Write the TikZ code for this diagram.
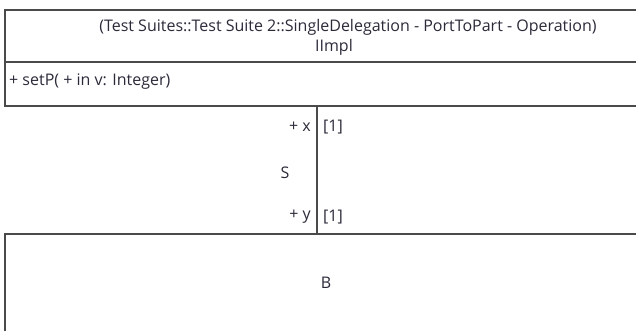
\documentclass[tikz,border=0pt]{standalone}
\usepackage{fontspec}
\setmainfont{Open Sans}
\definecolor{umlline}{HTML}{4A4A4A}
\definecolor{umltext}{HTML}{2A2A3A}
\begin{document}
\begin{tikzpicture}[x=1pt,y=-1pt,font=\fontsize{16}{19}\selectfont,
  umltxt/.style={text=umltext,inner sep=0pt}]
\useasboundingbox (0,0) rectangle (636,330);
\draw[umlline,line width=1.4pt] (5,10) rectangle (690,106);
\draw[umlline,line width=1.4pt] (5,62)--(690,62);
\draw[umlline,line width=1.4pt] (317,106)--(317,234);
\draw[umlline,line width=1.4pt] (5,340)--(5,234)--(690,234);
\node[umltxt] (title) at (348,27) {(Test Suites::Test Suite 2::SingleDelegation - PortToPart - Operation)};
\node[umltxt] (name) at (334,47) {IImpl};
\node[umltxt,anchor=west] (op) at (9,82) {+ setP( + in v: Integer)};
\node[umltxt,anchor=east] (px) at (311,127) {+ x};
\node[umltxt,anchor=west] (mx) at (323,127) {[1]};
\node[umltxt] (s) at (285,173) {S};
\node[umltxt,anchor=east] (py) at (311,217) {+ y};
\node[umltxt,anchor=west] (my) at (323,217) {[1]};
\node[umltxt] (b) at (326,283) {B};
\end{tikzpicture}
\end{document}
